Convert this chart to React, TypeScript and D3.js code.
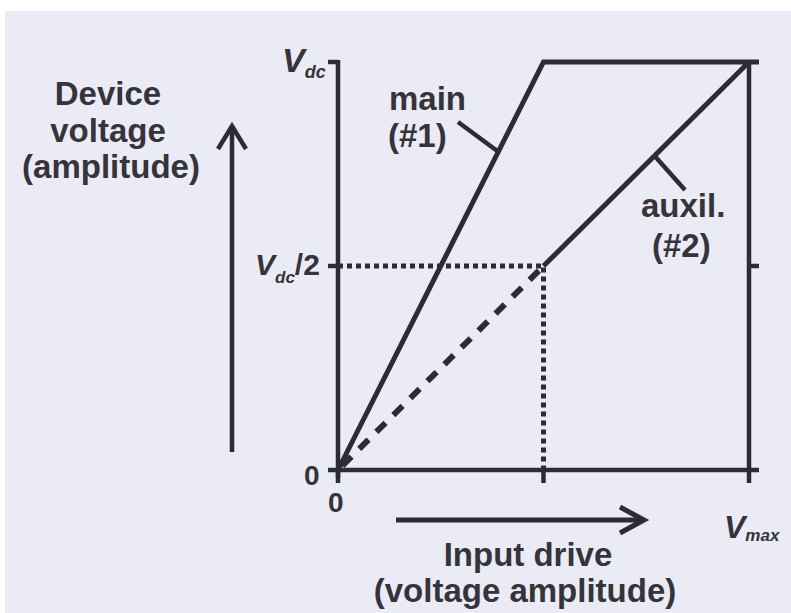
import React from "react";
import * as d3 from "d3";

// Normalised operating curves of a Doherty amplifier pair:
// x = input drive (0 .. Vmax), y = device voltage amplitude (0 .. Vdc)
const mainCurve: [number, number][] = [
  [0, 0],
  [0.5, 1],
  [1, 1],
];
const auxilCurve: [number, number][] = [
  [0.5, 0.5],
  [1, 1],
];
const auxilExtension: [number, number][] = [
  [0, 0],
  [0.5, 0.5],
];
const halfLevelGuide: [number, number][] = [
  [0, 0.5],
  [0.5, 0.5],
  [0.5, 0],
];
const xTickValues = [0, 0.5, 1];
const yTickValues = [0, 0.5, 1];

const W = 791;
const H = 613;
const INK = "#2c2c34";
const TEXT = "#34343a";
const PAPER = "#ebebf6";
const SANS = "'Liberation Sans', Arial, Helvetica, sans-serif";

export default function App() {
  const x = d3.scaleLinear().domain([0, 1]).range([338, 749]);
  const y = d3.scaleLinear().domain([0, 1]).range([470, 62]);
  const line = d3
    .line<[number, number]>()
    .x((d) => x(d[0]))
    .y((d) => y(d[1]));

  const lw = 5;
  const aw = 4.5;

  return (
    <svg
      width={W}
      height={H}
      viewBox={`0 0 ${W} ${H}`}
      style={{ position: "absolute", left: 0, top: 0, display: "block" }}
    >
      <rect x={0} y={0} width={W} height={H} fill="#ffffff" />
      <rect x={5} y={11} width={W - 5} height={H - 11} fill={PAPER} />

      {/* left axis */}
      <line x1={x(0)} y1={y(1) - 2} x2={x(0)} y2={y(0) + 8} stroke={INK} strokeWidth={aw} />
      {yTickValues.map((v) => (
        <line
          key={`yl${v}`}
          x1={x(0) - 10}
          x2={x(0)}
          y1={y(v)}
          y2={y(v)}
          stroke={INK}
          strokeWidth={aw}
        />
      ))}
      {/* right frame */}
      <line x1={x(1)} y1={y(1)} x2={x(1)} y2={y(0)} stroke={INK} strokeWidth={aw} />
      <line x1={x(1)} x2={x(1) + 10} y1={y(0.5)} y2={y(0.5)} stroke={INK} strokeWidth={aw} />
      {/* bottom axis */}
      <line x1={x(0)} y1={y(0)} x2={x(1) + 10} y2={y(0)} stroke={INK} strokeWidth={aw} />
      {xTickValues.map((v) => (
        <line
          key={`xt${v}`}
          x1={x(v)}
          x2={x(v)}
          y1={y(0)}
          y2={y(0) + 13}
          stroke={INK}
          strokeWidth={aw}
        />
      ))}

      {/* Vdc/2 guides */}
      <path
        d={line(halfLevelGuide) ?? ""}
        fill="none"
        stroke={INK}
        strokeWidth={5}
        strokeDasharray="5 4"
      />
      {/* auxiliary device extrapolated below turn-on */}
      <path
        d={line(auxilExtension) ?? ""}
        fill="none"
        stroke={INK}
        strokeWidth={6}
        strokeDasharray="13 11"
        strokeDashoffset={-6}
      />
      {/* main device */}
      <path
        d={line(mainCurve) ?? ""}
        fill="none"
        stroke={INK}
        strokeWidth={lw}
        strokeLinejoin="miter"
      />
      <line x1={x(1)} x2={x(1) + 10} y1={y(1)} y2={y(1)} stroke={INK} strokeWidth={lw} />
      {/* auxiliary device */}
      <path d={line(auxilCurve) ?? ""} fill="none" stroke={INK} strokeWidth={lw} />

      {/* leaders */}
      <line x1={458} y1={122} x2={x(0.39)} y2={y(0.78)} stroke={INK} strokeWidth={aw} />
      <line x1={x(0.77)} y1={y(0.77)} x2={685} y2={190} stroke={INK} strokeWidth={aw} />

      <g fontFamily={SANS} fontWeight="bold" fill={TEXT}>
        {/* y-axis title and arrow */}
        <g fontSize={33} textAnchor="middle">
          <text x={108} y={105}>Device</text>
          <text x={108} y={142}>voltage</text>
          <text x={111} y={178}>(amplitude)</text>
        </g>
        <line x1={232} y1={452} x2={232} y2={127} stroke={INK} strokeWidth={aw} />
        <polyline
          points="218,149 232,126 246,149"
          fill="none"
          stroke={INK}
          strokeWidth={aw}
        />

        {/* x-axis title and arrow */}
        <g fontSize={33} textAnchor="middle">
          <text x={528} y={566}>Input drive</text>
          <text x={525} y={602}>(voltage amplitude)</text>
        </g>
        <line x1={396} y1={520} x2={642} y2={520} stroke={INK} strokeWidth={5} />
        <polyline
          points="620,507 644,520 620,533"
          fill="none"
          stroke={INK}
          strokeWidth={5}
        />

        {/* tick labels */}
        <text x={282} y={72} fontSize={34} fontStyle="italic">
          V<tspan fontSize={18} dy={6}>dc</tspan>
        </text>

        <text x={255} y={275} fontSize={30} fontStyle="italic">
          V<tspan fontSize={17} dy={8}>dc</tspan>
          <tspan fontStyle="normal" fontSize={30} dy={-8}>/2</tspan>
        </text>

        <text x={304} y={485} fontSize={28}>0</text>
        <text x={328} y={512} fontSize={28}>0</text>

        <text x={724} y={538} fontSize={32} fontStyle="italic">
          V<tspan fontSize={17} dy={3}>max</tspan>
        </text>

        {/* curve labels */}
        <g fontSize={33}>
          <text x={389} y={110}>main</text>
          <text x={388} y={147}>(#1)</text>
          <text x={641} y={217}>auxil.</text>
          <text x={652} y={257}>(#2)</text>
        </g>
      </g>
    </svg>
  );
}
